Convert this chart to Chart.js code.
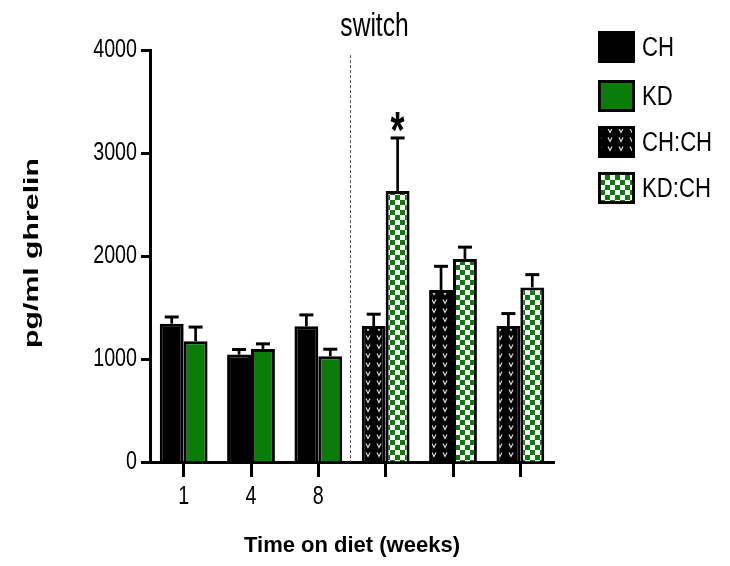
<!DOCTYPE html>
<html>
<head>
<meta charset="utf-8">
<script src="https://cdn.jsdelivr.net/npm/chart.js@4.4.1/dist/chart.umd.min.js"></script>
<style>
  html, body { margin: 0; padding: 0; background: #fff; }
  #wrap { width: 730px; height: 566px; position: relative; }
</style>
</head>
<body>
<div id="wrap"><canvas id="c"></canvas></div>
<script>
// Plasma ghrelin (pg/ml), mean and upper SEM, by week on diet and after the diet switch
const categories = ['1', '4', '8', '', '', ''];
const seriesNames = ['CH', 'KD', 'CH:CH', 'KD:CH'];
const chMean   = [1343, 1043, 1317, null, null, null];
const chErr    = [65, 49, 111, null, null, null];
const kdMean   = [1173, 1098, 1027, null, null, null];
const kdErr    = [137, 49, 68, null, null, null];
const chchMean = [null, null, null, 1320, 1669, 1320];
const chchErr  = [null, null, null, 115, 231, 121];
const kdchMean = [null, null, null, 2631, 1972, 1695];
const kdchErr  = [null, null, null, 515, 114, 124];
const kdchMarks = ['', '', '', '*', '', ''];
const yTicks = [0, 1000, 2000, 3000, 4000];
const yTitle = 'pg/ml ghrelin';
const xTitle = 'Time on diet (weeks)';
const switchLabel = 'switch';

const GREEN = '#0a7c0a';
const SANS = "'Liberation Sans', Arial, sans-serif";
const NARROW_X = 0.82;   // horizontal squeeze that turns the sans face into a narrow one

// black fill with small light "v" marks
function dotPattern() {
  const c = document.createElement('canvas');
  c.width = 11; c.height = 9;
  const g = c.getContext('2d');
  g.fillStyle = '#000';
  g.fillRect(0, 0, 11, 9);
  g.strokeStyle = '#dcdcdc';
  g.lineWidth = 1.2;
  g.beginPath();
  g.moveTo(3, 2.5);
  g.lineTo(5, 6.5);
  g.lineTo(7, 2.5);
  g.stroke();
  return g.createPattern(c, 'repeat');
}

// green / white checkerboard
function checkPattern() {
  const c = document.createElement('canvas');
  c.width = 10; c.height = 10;
  const g = c.getContext('2d');
  g.fillStyle = '#fff';
  g.fillRect(0, 0, 10, 10);
  g.fillStyle = GREEN;
  g.fillRect(0, 0, 5, 5);
  g.fillRect(5, 5, 5, 5);
  return g.createPattern(c, 'repeat');
}

const fills = ['#000', GREEN, dotPattern(), checkPattern()];
const means = [chMean, kdMean, chchMean, kdchMean];
const errs = [chErr, kdErr, chchErr, kdchErr];

const datasets = seriesNames.map((name, i) => ({
  label: name,
  data: means[i],
  errUp: errs[i],
  marks: i === 3 ? kdchMarks : null,
  backgroundColor: fills[i],
  borderColor: '#000',
  borderWidth: 3,
  borderSkipped: 'start'
}));

// text squeezed horizontally / stretched vertically around an anchor point
function narrowText(ctx, text, x, y, size, opts) {
  const o = Object.assign({ align: 'left', baseline: 'middle', sx: NARROW_X, sy: 1, weight: '' }, opts || {});
  ctx.save();
  ctx.translate(x, y);
  ctx.scale(o.sx, o.sy);
  ctx.font = (o.weight ? o.weight + ' ' : '') + size + 'px ' + SANS;
  ctx.fillStyle = '#000';
  ctx.textAlign = o.align;
  ctx.textBaseline = o.baseline;
  ctx.fillText(text, 0, 0);
  ctx.restore();
}

const extras = {
  id: 'extras',
  beforeDatasetsDraw(chart) {
    const ctx = chart.ctx;
    const xs = chart.scales.x, ys = chart.scales.y;
    // dashed divider between the diet period and the switch period
    const dx = (xs.getPixelForValue(2) + xs.getPixelForValue(3)) / 2 - 1.5;
    ctx.save();
    ctx.strokeStyle = '#555';
    ctx.lineWidth = 1;
    ctx.setLineDash([3, 2]);
    ctx.beginPath();
    ctx.moveTo(dx, ys.getPixelForValue(3950));
    ctx.lineTo(dx, chart.chartArea.bottom);
    ctx.stroke();
    ctx.restore();
    narrowText(ctx, switchLabel, dx + 24, 36, 30, { align: 'center', baseline: 'alphabetic', sy: 1.13 });
  },
  afterDatasetsDraw(chart) {
    const ctx = chart.ctx;
    const ys = chart.scales.y;
    chart.data.datasets.forEach((ds, i) => {
      const meta = chart.getDatasetMeta(i);
      ds.data.forEach((v, j) => {
        if (v === null) return;
        const bar = meta.data[j];
        const top = ys.getPixelForValue(v + ds.errUp[j]);
        ctx.save();
        ctx.strokeStyle = '#000';
        ctx.lineWidth = 2.7;
        ctx.beginPath();
        ctx.moveTo(bar.x, bar.y);
        ctx.lineTo(bar.x, top);
        ctx.stroke();
        ctx.lineWidth = 3;
        ctx.beginPath();
        ctx.moveTo(bar.x - 7, top);
        ctx.lineTo(bar.x + 7, top);
        ctx.stroke();
        if (ds.marks && ds.marks[j]) {
          ctx.font = 'bold 36px ' + SANS;
          ctx.fillStyle = '#000';
          ctx.textAlign = 'center';
          ctx.textBaseline = 'alphabetic';
          const m = ctx.measureText(ds.marks[j]);
          const mid = (-m.actualBoundingBoxAscent + m.actualBoundingBoxDescent) / 2;
          ctx.translate(bar.x, top - 18);
          ctx.scale(1, 1.45);
          ctx.fillText(ds.marks[j], 0, -mid);
        }
        ctx.restore();
      });
    });
  },
  afterDraw(chart) {
    const ctx = chart.ctx;
    const xs = chart.scales.x, ys = chart.scales.y;
    // tick labels, placed by the scales
    yTicks.forEach(v => {
      narrowText(ctx, String(v), 137, ys.getPixelForValue(v), 24, { align: 'right', sy: 1.08 });
    });
    categories.forEach((c, i) => {
      if (c) narrowText(ctx, c, xs.getPixelForValue(i), 497, 24, { align: 'center', sy: 1.1 });
    });
    // legend
    const centers = [47, 96, 142, 188];
    chart.data.datasets.forEach((ds, i) => {
      const cy = centers[i];
      ctx.save();
      ctx.fillStyle = ds.backgroundColor;
      ctx.fillRect(598, cy - 16, 37, 32);
      ctx.strokeStyle = '#000';
      ctx.lineWidth = 3;
      ctx.strokeRect(599.5, cy - 14.5, 34, 29);
      ctx.restore();
      narrowText(ctx, ds.label, 642, cy + 2, 27, { sy: 1.0 });
    });
    // y axis title
    ctx.save();
    ctx.translate(32.5, 253);
    ctx.rotate(-Math.PI / 2);
    ctx.font = 'bold 21px ' + SANS;
    const w = ctx.measureText(yTitle).width;
    ctx.scale(190 / w, 1);
    ctx.fillStyle = '#000';
    ctx.textAlign = 'center';
    ctx.textBaseline = 'middle';
    ctx.fillText(yTitle, 0, 0);
    ctx.restore();
  }
};

new Chart(document.getElementById('c'), {
  type: 'bar',
  data: { labels: categories, datasets },
  plugins: [extras],
  options: {
    responsive: true,
    maintainAspectRatio: false,
    animation: false,
    events: [],
    layout: { padding: { left: 0, right: 176, top: 50, bottom: 0 } },
    datasets: { bar: { skipNull: true, categoryPercentage: 0.71, barPercentage: 1.0 } },
    plugins: { legend: { display: false }, tooltip: { enabled: false } },
    scales: {
      x: {
        grid: { display: true, drawOnChartArea: false, offset: false, tickLength: 15, tickWidth: 3, tickColor: '#000', color: '#000' },
        border: { display: true, width: 3, color: '#000' },
        ticks: { display: false },
        title: { display: true, text: xTitle, color: '#000', font: { family: SANS, weight: 'bold', size: 22 }, padding: { top: 0, bottom: 7 } },
        afterFit(s) { s.height = 104; }
      },
      y: {
        min: 0, max: 4000,
        afterBuildTicks(s) { s.ticks = yTicks.map(v => ({ value: v })); },
        grid: { display: true, drawOnChartArea: false, tickLength: 9, tickWidth: 3, tickColor: '#000', color: '#000' },
        border: { display: true, width: 3, color: '#000' },
        ticks: { display: false },
        afterFit(s) { s.width = 150; }
      }
    }
  }
});
</script>
</body>
</html>
